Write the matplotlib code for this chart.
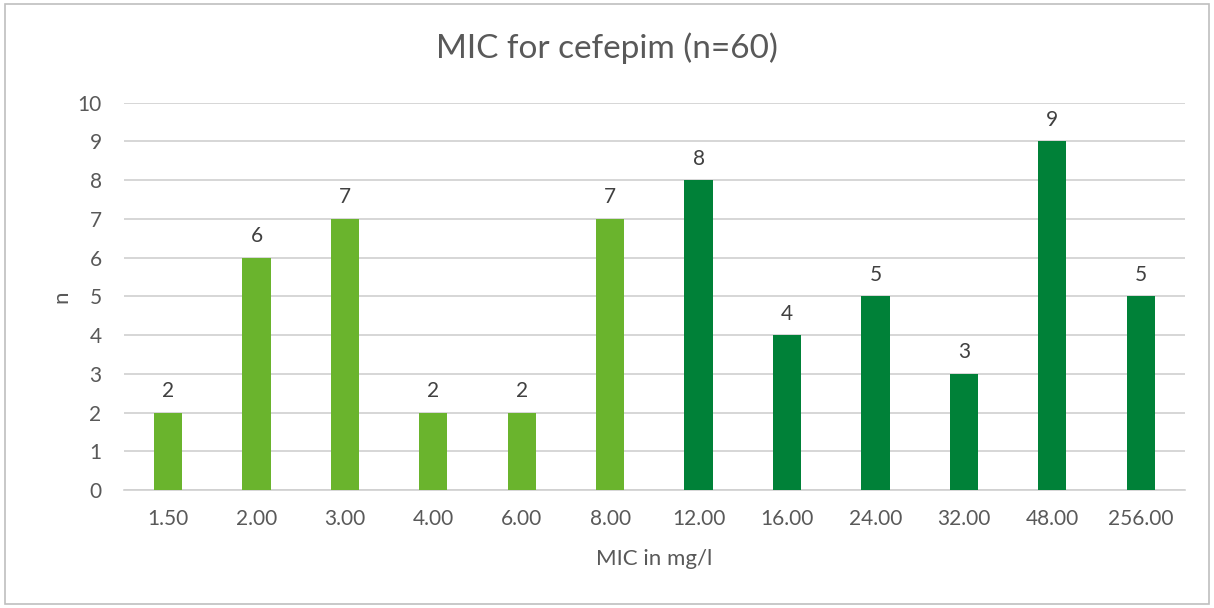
import numpy as np
import matplotlib.pyplot as plt
from matplotlib.patches import Rectangle

plt.rcParams['font.family'] = ['Lato', 'DejaVu Sans']

mic_labels = ['1.50', '2.00', '3.00', '4.00', '6.00', '8.00',
              '12.00', '16.00', '24.00', '32.00', '48.00', '256.00']
counts = [2, 6, 7, 2, 2, 7, 8, 4, 5, 3, 9, 5]
light_green = '#6AB42D'
dark_green = '#008138'
colors = [light_green] * 6 + [dark_green] * 6

txt = '#595959'

fig = plt.figure(figsize=(12.14, 6.08), dpi=100)
ax = fig.add_axes([0.102, 0.194, 0.874, 0.637])

x = np.arange(len(counts))
bars = ax.bar(x, counts, width=0.32, color=colors, zorder=3)
for xi, c in zip(x, counts):
    ax.text(xi, c + 0.3, str(c), ha='center', va='bottom', fontsize=15, color='#404040')

ax.set_xlim(-0.5, len(counts) - 0.5)
ax.set_ylim(0, 10)
ax.set_yticks(range(11))
ax.yaxis.grid(True, color='#D0D0D0', linewidth=1.2, zorder=0)
ax.set_xticks(x)
ax.set_xticklabels(mic_labels)
ax.tick_params(length=0, labelsize=15, labelcolor=txt, pad=14)
ax.tick_params(axis='y', pad=16)
for s in ['top', 'right', 'left']:
    ax.spines[s].set_visible(False)
ax.spines['bottom'].set_color('#D0D0D0')
ax.spines['bottom'].set_linewidth(1.2)

ax.set_xlabel('MIC in mg/l', fontsize=16, color=txt, labelpad=14)
ax.set_ylabel('n', fontsize=16, color=txt, labelpad=4)
fig.text(0.5, 1 - 48 / 608, 'MIC for cefepim (n=60)', fontsize=24, color=txt,
         ha='center', va='center')

fig.patches.append(Rectangle((0.004, 0.006), 0.992, 0.988, transform=fig.transFigure,
                             fill=False, edgecolor='#BFBFBF', linewidth=1.2))

plt.savefig('out.png', dpi=100)
